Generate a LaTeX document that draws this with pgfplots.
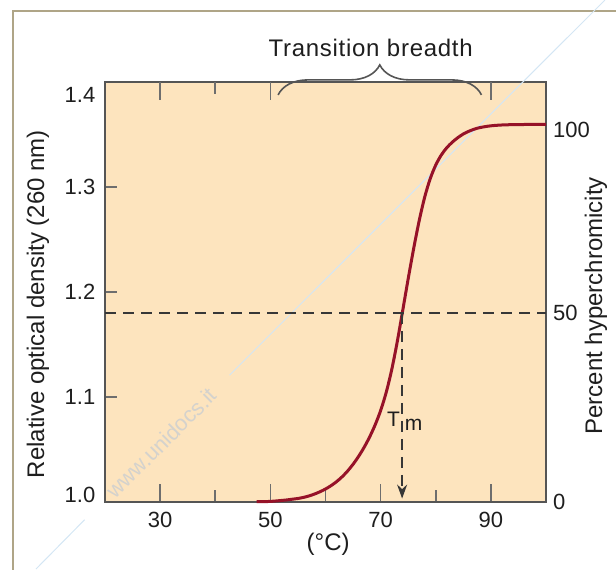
\documentclass[border=0pt]{standalone}
\usepackage{pgfplots}
\pgfplotsset{compat=1.18}
\usepackage{fontspec}
\setmainfont{Liberation Sans}
\usetikzlibrary{decorations.pathreplacing,arrows.meta}
\definecolor{bgpeach}{RGB}{253,228,190}
\definecolor{curvered}{RGB}{150,18,40}
\definecolor{axgray}{RGB}{85,85,85}
\definecolor{tickgray}{RGB}{110,110,110}
\definecolor{framecol}{RGB}{175,165,135}
\definecolor{wmblue}{RGB}{212,230,244}
\definecolor{wmtext}{RGB}{212,210,205}
\definecolor{txt}{RGB}{30,30,30}
\definecolor{dashcol}{RGB}{55,55,55}

\pgfplotstableread{
x y
47.5 1.0000
49 1.0001
50 1.0003
51 1.0007
52 1.0012
53 1.0017
54 1.0024
55 1.0031
56 1.0041
57 1.0055
58 1.0073
59 1.0095
60 1.0121
61 1.0153
62 1.0191
63 1.0237
64 1.0292
65 1.0357
66 1.0432
67 1.0518
68 1.0617
69 1.0732
70 1.0869
71 1.1040
72 1.1256
73 1.1521
74 1.1821
75 1.2126
76 1.2416
77 1.2681
78 1.2906
79 1.3081
80 1.3211
81 1.3306
82 1.3376
83 1.3429
84 1.3472
85 1.3507
86 1.3533
87 1.3553
88 1.3568
90 1.3585
93 1.3595
100 1.3600
}\meltcurve

\pgfplotsset{
  common/.style={
    at={(52.5pt,-250.85pt)}, anchor=south west,
    scale only axis, width=220.5pt, height=209.7pt,
    xmin=20, xmax=100,
    tick align=inside,
    major tick length=9pt, minor tick length=6pt,
    tick style={tickgray, line width=0.8pt},
    tick label style={font=\fontsize{11}{13}\selectfont, text=txt},
    label style={font=\fontsize{12}{14}\selectfont, text=txt},
  }
}

\begin{document}
\begin{tikzpicture}
\useasboundingbox (0pt,0pt) rectangle (308pt,-284.5pt);
\draw[framecol, line width=0.9pt] (6.65pt,-300pt) -- (6.65pt,-5.35pt) -- (320pt,-5.35pt);

\begin{axis}[common,
  ymin=1.0, ymax=1.4,
  axis background/.style={fill=bgpeach},
  axis line style={axgray, line width=1pt},
  clip=false,
  xtick={30,50,70,90}, xticklabels={30,50,70,90},
  minor xtick={40,60,80},
  xtick pos=left,
  ytick={1.0,1.1,1.2,1.3,1.4},
  yticklabels={\raisebox{3.3pt}[\height][\depth]{1.0},1.1,1.2,1.3,\raisebox{-6.5pt}[\height][\depth]{1.4}},
  minor ytick={1.1,1.2,1.3},
  major y tick style={draw=none},
  ytick pos=left,
  xticklabel style={yshift=-1.8pt},
  yticklabel style={xshift=-1.3pt},
  xlabel={(°C)},
  xlabel style={at={(axis description cs:0.506,-0.101)}, anchor=center},
  ylabel={Relative optical density (260 nm)},
  ylabel style={at={(axis description cs:-0.152,0.471)}, anchor=center},
]
\draw[wmblue, line width=0.5pt] (axis cs:110.7,1.4785) -- (axis cs:42.6,1.1207);
\draw[wmblue, line width=0.5pt] (axis cs:16.3,0.9828) -- (axis cs:7.48,0.9358);
\node[wmtext, rotate=45, font=\fontsize{11}{13}\selectfont] at (axis cs:30.2,1.056) {www.unidocs.it};
\addplot[curvered, line width=1.5pt, smooth] table {\meltcurve};
\addplot[dashcol, line width=0.9pt, dash pattern=on 5.5pt off 3.5pt] coordinates {(20,1.18) (100,1.18)};
\addplot[dashcol, line width=0.9pt, dash pattern=on 5.5pt off 3.5pt, -{Stealth[length=7pt,width=5pt]}] coordinates {(73.9,1.18) (73.9,1.003)};
\draw[decorate, decoration={brace, amplitude=15pt}, axgray, line width=0.8pt] (axis cs:51.4,1.388) -- (axis cs:88.3,1.388);
\node[anchor=base, txt, font=\fontsize{12}{14}\selectfont\addfontfeature{LetterSpace=3}] at (axis cs:68.2,1.4244) {Transition breadth};
\node[anchor=base west, txt, font=\fontsize{10.5}{12}\selectfont, inner sep=0pt] at (axis cs:71.1,1.0715) {T\hspace{2.5pt}\raisebox{-1.7pt}{m}};
\end{axis}

\begin{axis}[common,
  ymin=0, ymax=111.1,
  axis line style={draw=none},
  xtick=\empty,
  ytick={0,50,100},
  yticklabels={0,50,\raisebox{-2.9pt}[\height][\depth]{100}},
  ytick pos=right,
  major tick length=0pt,
  yticklabel style={anchor=west},
  ylabel={Percent hyperchromicity},
  ylabel style={at={(axis description cs:1.113,0.467)}, anchor=center},
]
\end{axis}

\begin{axis}[common,
  ymin=0, ymax=1,
  axis line style={draw=none},
  xtick={30,50,90}, minor xtick={40},
  xtick pos=right,
  xticklabels={},
  ytick=\empty,
]
\end{axis}
\end{tikzpicture}
\end{document}
